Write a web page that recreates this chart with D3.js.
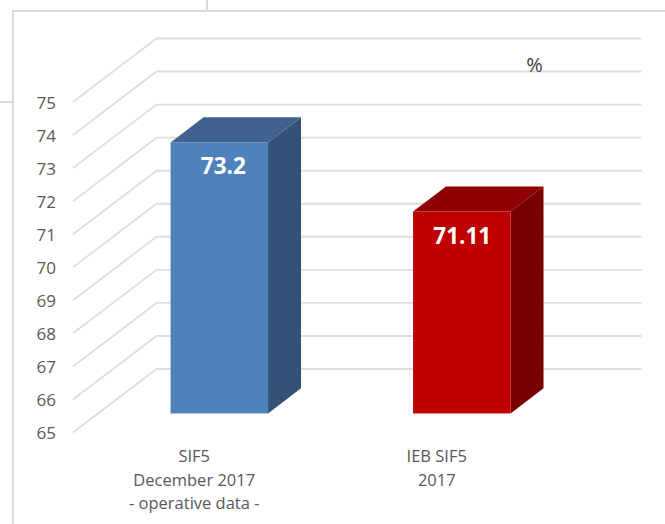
<!DOCTYPE html>
<html>
<head>
<meta charset="utf-8">
<script src="https://cdn.jsdelivr.net/npm/d3@7"></script>
<style>
html,body{margin:0;padding:0;background:#fff;overflow:hidden}
svg{display:block}
text{font-family:"Open Sans",sans-serif}
</style>
</head>
<body>
<svg id="chart" width="665" height="524"></svg>
<script>
const categories = [["SIF5","December 2017","- operative data -"],["IEB SIF5","2017"]];
const values = [73.2, 71.11];
const valueLabels = ["73.2","71.11"];
const tickValues = [65,66,67,68,69,70,71,72,73,74,75];
const frontColors = ["#4f81bd","#c00000"];
const topColors = ["#3f6290","#900000"];
const sideColors = ["#345278","#780000"];
const unitLabel = "%";

const svg = d3.select("#chart");
const depthX = 83.5, depthY = -63.5;
const barT0 = 0.3, barT1 = 0.695;
const labelShift = [4, 0.5];

const x = d3.scaleBand().domain(d3.range(categories.length)).range([73,558]).paddingInner(0.598).paddingOuter(0.299);
const y = d3.scaleLinear().domain([65,75]).range([432.5,102]);

// frame and stray connector lines
const frame = svg.append("g").attr("fill","none").attr("stroke","#d9d9d9").attr("stroke-width",2);
frame.append("path").attr("d","M13,524V11H665");
frame.append("path").attr("d","M207,0V11");
frame.append("path").attr("d","M0,102H13");

// gridlines
svg.append("g").selectAll("path").data(tickValues).join("path")
  .attr("fill","none").attr("stroke","#dedede").attr("stroke-width",1.9)
  .attr("d",d=>{
    const p=d3.path();
    const x0=x.range()[0], yy=y(d);
    p.moveTo(x0,yy);
    p.lineTo(x0+depthX,yy+depthY);
    p.lineTo(x.range()[1]+depthX,yy+depthY);
    return p.toString();
  });

// axis labels
const axis = d3.axisLeft(y).tickValues(tickValues).tickSize(0).tickPadding(0).tickFormat(d3.format("d"));
const ag = svg.append("g").attr("transform","translate(56,0)").call(axis);
ag.select(".domain").remove();
ag.selectAll("text").attr("font-size",17).attr("fill","#595959").attr("font-family",'"Open Sans",sans-serif').attr("dy","0.36em");

// bars
const bars = svg.append("g").selectAll("g").data(values).join("g");
const geo = (v,i)=>{
  const l=x(i)+barT0*depthX, r=l+x.bandwidth();
  const b=y(65)+barT0*depthY, t=y(v)+barT0*depthY;
  const dx=(barT1-barT0)*depthX, dy=(barT1-barT0)*depthY;
  return {l,r,b,t,dx,dy};
};
bars.append("path").attr("fill",(d,i)=>sideColors[i]).attr("d",(d,i)=>{
  const g=geo(d,i);
  return `M${g.r},${g.t}L${g.r+g.dx},${g.t+g.dy}L${g.r+g.dx},${g.b+g.dy}L${g.r},${g.b}Z`;
});
bars.append("path").attr("fill",(d,i)=>topColors[i]).attr("d",(d,i)=>{
  const g=geo(d,i);
  return `M${g.l},${g.t}L${g.l+g.dx},${g.t+g.dy}L${g.r+g.dx},${g.t+g.dy}L${g.r},${g.t}Z`;
});
bars.append("rect").attr("fill",(d,i)=>frontColors[i])
  .attr("x",(d,i)=>geo(d,i).l).attr("y",(d,i)=>geo(d,i).t)
  .attr("width",x.bandwidth()).attr("height",(d,i)=>geo(d,i).b-geo(d,i).t);
bars.append("text").attr("text-anchor","middle").attr("fill","#fff").attr("font-weight",700).attr("font-size",22.5)
  .attr("x",(d,i)=>(geo(d,i).l+geo(d,i).r)/2+labelShift[i]).attr("y",(d,i)=>geo(d,i).t+32)
  .text((d,i)=>valueLabels[i]);

// category labels
svg.append("g").selectAll("text").data(categories).join("text")
  .attr("text-anchor","middle").attr("fill","#595959").attr("font-size",16.5)
  .each(function(lines,i){
    d3.select(this).selectAll("tspan").data(lines).join("tspan")
      .attr("x",x(i)+x.bandwidth()/2).attr("y",(l,j)=>462+j*23.5).text(l=>l);
  });

svg.append("text").attr("x",534.5).attr("y",72).attr("text-anchor","middle").attr("fill","#404040").attr("font-size",20).text(unitLabel);
</script>
</body>
</html>
